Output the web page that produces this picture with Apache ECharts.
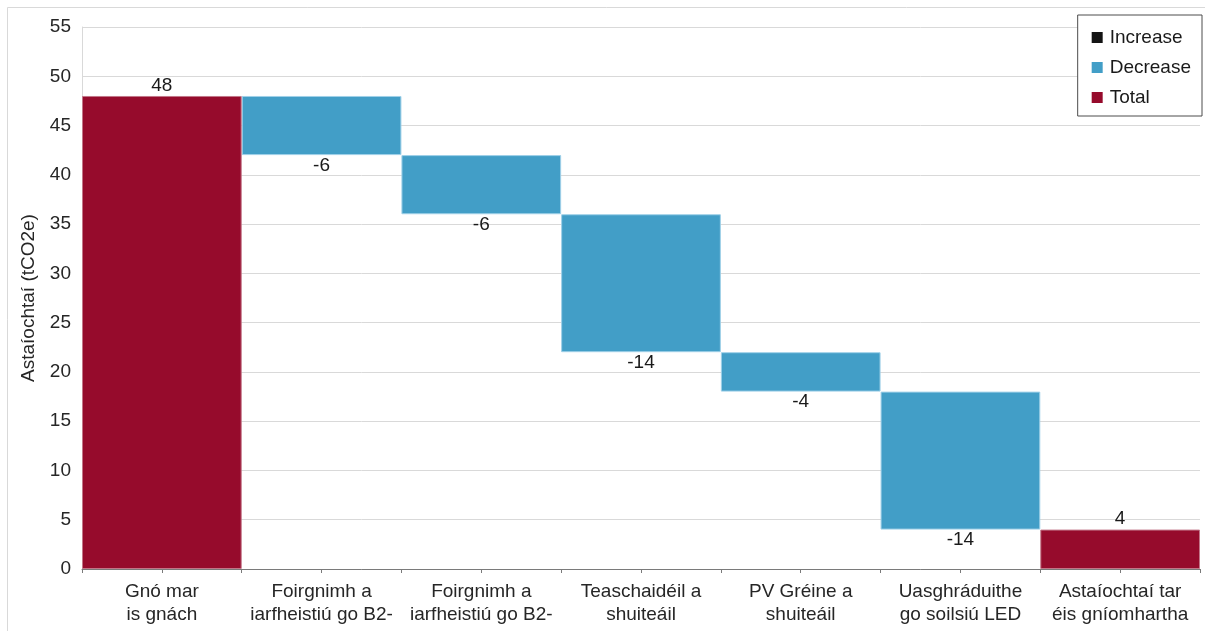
<!DOCTYPE html>
<html>
<head>
<meta charset="utf-8">
<title>Astaíochtaí (tCO2e)</title>
<script src="https://cdn.jsdelivr.net/npm/echarts@6/dist/echarts.min.js"></script>
<style>
  html, body { margin: 0; padding: 0; background: #ffffff; }
  #chart { width: 1205px; height: 631px; }
</style>
</head>
<body>
<div id="chart"></div>
<script>
// Emission steps: baseline total, the reduction from each measure, and the final total
const categories = [
  'Gnó mar\nis gnách',
  'Foirgnimh a\niarfheistiú go B2-',
  'Foirgnimh a\niarfheistiú go B2-',
  'Teaschaidéil a\nshuiteáil',
  'PV Gréine a\nshuiteáil',
  'Uasghráduithe\ngo soilsiú LED',
  'Astaíochtaí tar\néis gníomhartha'
];
const startTotal = 48;
const changes = [-6, -6, -14, -4, -14];
const endTotal = 4;
const yTicks = { min: 0, max: 55, step: 5 };

const COLORS = { increase: '#141414', decrease: '#429ec7', total: '#960b2c' };
const FONT = "'Liberation Sans', Arial, Helvetica, sans-serif";
const TEXT = '#262626';

// Build the stacked series: an invisible base lifts each change bar to its running level
const n = categories.length;
const base = new Array(n).fill('-');
const inc = new Array(n).fill('-');
const dec = new Array(n).fill('-');
const tot = new Array(n).fill('-');
tot[0] = startTotal;
base[0] = 0;
let level = startTotal;
changes.forEach((c, i) => {
  const idx = i + 1;
  if (c < 0) {
    base[idx] = level + c;
    dec[idx] = -c;
  } else {
    base[idx] = level;
    inc[idx] = c;
  }
  level += c;
});
tot[n - 1] = endTotal;
base[n - 1] = 0;

const labelStyle = { show: true, fontFamily: FONT, fontSize: 19, color: '#1a1a1a' };

const chart = echarts.init(document.getElementById('chart'), null, { renderer: 'canvas' });
chart.setOption({
  animation: false,
  backgroundColor: '#ffffff',
  textStyle: { fontFamily: FONT },
  graphic: [{
    type: 'rect',
    shape: { x: 7.5, y: 7.5, width: 1210, height: 640 },
    style: { fill: 'none', stroke: '#d9d9d9', lineWidth: 1 },
    silent: true, z: -1
  }],
  legend: {
    data: ['Increase', 'Decrease', 'Total'],
    orient: 'vertical',
    right: 3,
    top: 15,
    padding: [13, 11, 9, 14],
    itemWidth: 11,
    itemHeight: 11,
    itemGap: 11,
    icon: 'rect',
    itemStyle: { borderWidth: 0 },
    borderColor: '#4d4d4d',
    borderWidth: 1,
    backgroundColor: '#ffffff',
    textStyle: { fontFamily: FONT, fontSize: 19, color: '#1a1a1a', padding: [0, 0, 0, 2] }
  },
  grid: { left: 82, right: 5, top: 27, bottom: 62, containLabel: false },
  xAxis: [{
    type: 'category',
    data: categories,
    axisLine: { show: true, lineStyle: { color: '#7a7a7a', width: 1 } },
    axisTick: { show: true, interval: 0, alignWithLabel: false, length: 4, lineStyle: { color: '#7a7a7a' } },
    axisLabel: { interval: 0, fontFamily: FONT, fontSize: 19, lineHeight: 23, color: TEXT, margin: 11 },
    splitLine: { show: false }
  }, {
    // extra axis that only draws the centre ticks under each bar
    type: 'category',
    data: categories,
    position: 'bottom',
    axisLine: { show: false },
    axisTick: { show: true, interval: 0, alignWithLabel: true, length: 4, lineStyle: { color: '#7a7a7a' } },
    axisLabel: { show: false },
    splitLine: { show: false }
  }],
  yAxis: {
    type: 'value',
    min: yTicks.min,
    max: yTicks.max,
    interval: yTicks.step,
    name: 'Astaíochtaí (tCO2e)',
    nameLocation: 'middle',
    nameRotate: 90,
    nameGap: 44,
    nameTextStyle: { fontFamily: FONT, fontSize: 19, color: TEXT },
    axisLine: { show: true, lineStyle: { color: '#d9d9d9' } },
    axisTick: { show: false },
    axisLabel: { fontFamily: FONT, fontSize: 19, color: TEXT, margin: 11 },
    splitLine: { show: true, lineStyle: { color: '#d9d9d9', width: 1 } }
  },
  series: [
    {
      name: 'base', type: 'bar', stack: 'w', data: base,
      barCategoryGap: '0%',
      itemStyle: { color: 'transparent' },
      silent: true, legendHoverLink: false
    },
    {
      name: 'Increase', type: 'bar', stack: 'w', data: inc,
      itemStyle: { color: COLORS.increase },
      label: Object.assign({}, labelStyle, { position: 'top', distance: 2 })
    },
    {
      name: 'Decrease', type: 'bar', stack: 'w', data: dec,
      itemStyle: { color: COLORS.decrease, borderColor: '#9fd0e8', borderWidth: 1 },
      label: Object.assign({}, labelStyle, {
        position: 'bottom', distance: 1,
        formatter: p => String(-p.value)
      })
    },
    {
      name: 'Total', type: 'bar', stack: 'w', data: tot,
      itemStyle: { color: COLORS.total, borderColor: '#c27688', borderWidth: 1 },
      label: Object.assign({}, labelStyle, { position: 'top', distance: 1 })
    }
  ]
});
</script>
</body>
</html>
